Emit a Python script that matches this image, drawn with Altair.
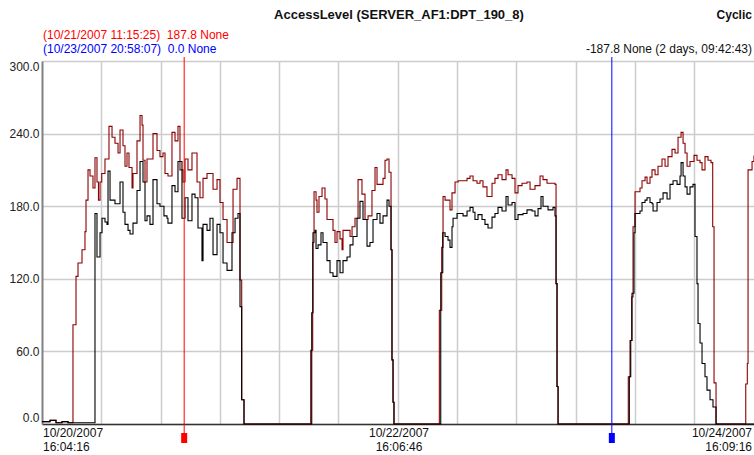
import altair as alt
import pandas as pd

# ---- data: (hours since 10/20/2007 16:04:16, value) ----
red_points = [
    (0.0, 2), (1.08, 3), (1.89, 1), (2.70, 2), (3.51, 1), (4.18, 82), (4.59, 122), (4.86, 133),
    (5.40, 144), (5.80, 159), (5.94, 185), (6.21, 210), (6.48, 205), (6.88, 195), (7.15, 220),
    (7.42, 200), (7.62, 185), (7.83, 200), (8.06, 207), (8.50, 219), (9.04, 246), (9.45, 237),
    (9.85, 232), (10.26, 224), (10.53, 243), (10.93, 230), (11.20, 213), (11.47, 224), (11.74, 212),
    (12.15, 195), (12.28, 207), (12.82, 234), (13.23, 255), (13.50, 247), (13.63, 218), (13.90, 200),
    (14.17, 219), (14.57, 219), (14.98, 240), (15.52, 226), (15.92, 221), (16.33, 224), (16.60, 207),
    (17.00, 205), (17.54, 241), (17.95, 234), (18.35, 246), (18.62, 210), (19.03, 200), (19.30, 219),
    (19.70, 210), (20.24, 224), (20.65, 224), (20.92, 200), (21.32, 187), (21.73, 203), (22.27, 207),
    (22.67, 207), (23.08, 194), (23.62, 202), (24.02, 183), (24.43, 169), (24.97, 150), (25.37, 150),
    (25.78, 194), (26.32, 203), (26.72, 119), (26.95, 20), (27.26, 0),
    (36.26, 61), (36.53, 150), (36.71, 192), (36.98, 185), (37.11, 175), (37.38, 188), (37.79, 195),
    (38.19, 186), (38.46, 169), (38.87, 169), (39.27, 160), (39.54, 150), (39.81, 159), (40.22, 153),
    (40.49, 144), (40.62, 160), (41.16, 160), (41.57, 155), (41.84, 163), (42.24, 170), (42.65, 202),
    (43.18, 190), (43.59, 169), (44.00, 172), (44.53, 193), (44.94, 212), (45.21, 198), (45.61, 198),
    (46.02, 203), (46.29, 218), (46.56, 219), (46.83, 208), (47.10, 144), (47.23, 53), (47.37, 18),
    (47.50, 0),
    (53.62, 94), (53.94, 146), (54.12, 188), (54.39, 185), (55.06, 177), (55.33, 191), (55.74, 200),
    (56.15, 201), (56.82, 201), (57.36, 203), (57.76, 205), (58.17, 201), (58.70, 199), (59.11, 201),
    (59.51, 196), (60.05, 188), (60.32, 188), (60.73, 199), (61.13, 203), (61.54, 206), (62.08, 202),
    (62.62, 210), (62.89, 206), (63.43, 203), (63.83, 191), (64.24, 197), (64.78, 199), (65.45, 200),
    (65.86, 194), (66.53, 197), (67.21, 205), (67.61, 202), (68.15, 199), (68.83, 199), (69.23, 198),
    (69.37, 116), (69.50, 31), (69.64, 0),
    (79.12, 39), (79.35, 69), (79.58, 105), (79.76, 163), (80.03, 192), (80.43, 192), (80.70, 195),
    (80.97, 201), (81.38, 204), (81.65, 199), (82.05, 204), (82.32, 210), (82.73, 206), (83.13, 213),
    (83.67, 219), (84.08, 213), (84.48, 221), (85.02, 227), (85.43, 224), (85.83, 237), (86.24, 241),
    (86.51, 232), (86.78, 224), (87.05, 213), (87.45, 217), (87.99, 222), (88.39, 218), (88.80, 216),
    (89.07, 210), (89.47, 221), (89.88, 218), (90.28, 216), (90.51, 163), (90.69, 34), (90.96, 0),
    (94.97, 33), (95.18, 50), (95.28, 210), (95.82, 217), (96.08, 222),
]

black_points = [
    (0.0, 2), (1.08, 3), (1.89, 1), (2.70, 2), (3.51, 1), (5.13, 1), (7.15, 174), (7.42, 138),
    (7.83, 158), (8.10, 170), (8.50, 167), (8.77, 165), (8.91, 209), (9.18, 185), (9.58, 185),
    (9.85, 182), (10.26, 182), (10.53, 200), (10.93, 175), (11.20, 165), (11.61, 160), (11.88, 157),
    (12.28, 166), (12.82, 193), (13.23, 217), (13.63, 200), (13.90, 168), (14.17, 172), (14.57, 165),
    (14.98, 202), (15.52, 182), (15.92, 180), (16.46, 172), (16.87, 170), (17.00, 166), (17.54, 197),
    (17.95, 192), (18.35, 217), (18.89, 170), (19.30, 187), (19.70, 168), (20.24, 190), (20.65, 187),
    (21.05, 162), (21.59, 135), (21.73, 165), (22.27, 160), (22.67, 170), (23.08, 140), (23.62, 165),
    (24.02, 158), (24.43, 133), (24.97, 127), (25.37, 127), (25.64, 158), (26.05, 170), (26.45, 174),
    (26.72, 97), (26.95, 20), (27.26, 0),
    (36.40, 92), (36.57, 158), (36.84, 160), (36.98, 145), (37.25, 148), (37.65, 158), (37.92, 150),
    (38.46, 135), (38.87, 125), (39.27, 122), (39.81, 135), (40.22, 125), (40.62, 135), (41.16, 138),
    (41.57, 148), (41.97, 155), (42.51, 170), (42.91, 184), (43.32, 169), (43.86, 147), (44.26, 150),
    (44.67, 169), (45.21, 174), (45.61, 166), (46.02, 172), (46.56, 185), (46.83, 180), (47.10, 144),
    (47.23, 53), (47.37, 18), (47.50, 0),
    (53.81, 125), (54.08, 158), (54.39, 155), (54.79, 152), (55.06, 146), (55.33, 163), (55.47, 170),
    (56.01, 174), (56.82, 172), (57.36, 176), (57.76, 179), (58.17, 175), (58.43, 169), (58.84, 173),
    (59.38, 169), (59.78, 165), (60.19, 162), (60.73, 171), (61.13, 174), (61.54, 179), (62.08, 176),
    (62.62, 188), (62.89, 181), (63.43, 183), (63.83, 169), (64.24, 173), (64.91, 174), (65.45, 177),
    (66.13, 176), (66.53, 172), (66.94, 178), (67.34, 188), (67.61, 180), (68.29, 177), (68.96, 179),
    (69.23, 172), (69.37, 116), (69.50, 31), (69.64, 0),
    (79.26, 39), (79.45, 69), (79.62, 108), (79.89, 158), (80.03, 174), (80.43, 174), (80.70, 176),
    (80.97, 183), (81.38, 185), (81.65, 187), (82.05, 183), (82.32, 182), (82.46, 176), (83.00, 183),
    (83.40, 186), (83.81, 191), (84.35, 186), (84.75, 198), (85.16, 201), (85.70, 198), (86.10, 205),
    (86.24, 216), (86.51, 205), (86.78, 196), (87.05, 190), (87.45, 196), (87.85, 198), (88.12, 155),
    (88.39, 116), (88.53, 83), (88.80, 67), (89.07, 50), (89.47, 39), (89.74, 28), (90.15, 20),
    (90.55, 14), (90.96, 0), (96.08, 0),
]

x_label_hours = [0.0, 48.042, 96.083]
x_label_texts = ["10/20/2007\n16:04:16", "10/22/2007\n16:06:46", "10/24/2007\n16:09:16"]
x_label_aligns = ["left", "center", "right"]

cursor_hours = [19.186, 76.898]
cursor_colors = ["#ff0000", "#0000ff"]

y_grid_values = list(range(0, 301, 30))
x_grid_values = list(range(8, 96, 8))

W, H = 712, 363
X_MAX = 96.083
FONT = "Liberation Sans"
NB = "\u00a0"

xs = alt.Scale(domain=[0, X_MAX], nice=False, zero=False)
ys = alt.Scale(domain=[0, 300], nice=False)

red_df = pd.DataFrame(red_points, columns=["h", "v"])
black_df = pd.DataFrame(black_points, columns=["h", "v"])

x_axis = alt.Axis(values=x_grid_values, labels=False, ticks=False, title=None,
                  grid=True, gridColor="#cccccc", gridWidth=1.5,
                  domainColor="#333333", domainWidth=1.5)
y_axis = alt.Axis(values=y_grid_values,
                  labelExpr="datum.value % 60 == 0 ? format(datum.value, '.1f') : ''",
                  ticks=False, labelPadding=3, labelFlush=True, labelFont=FONT,
                  labelFontSize=12, labelColor="#222222", title=None,
                  domainColor="#808080", domainWidth=2,
                  grid=True, gridColor="#cccccc", gridWidth=1.5)

red_line = alt.Chart(red_df).mark_line(
    interpolate="step-after", color="#8b0000", strokeWidth=1.1
).encode(x=alt.X("h:Q", scale=xs, axis=x_axis), y=alt.Y("v:Q", scale=ys, axis=y_axis))

black_line = alt.Chart(black_df).mark_line(
    interpolate="step-after", color="#000000", strokeWidth=1.1
).encode(x=alt.X("h:Q", scale=xs), y=alt.Y("v:Q", scale=ys))

layers = [red_line, black_line]

cur_df = pd.DataFrame({"h": cursor_hours, "c": cursor_colors})
layers.append(alt.Chart(cur_df).mark_rule(strokeWidth=1).encode(
    x=alt.X("h:Q", scale=xs), y=alt.value(-4), y2=alt.value(H + 10),
    color=alt.Color("c:N", scale=None)))
layers.append(alt.Chart(cur_df).mark_rule(strokeWidth=6, strokeCap="butt").encode(
    x=alt.X("h:Q", scale=xs), y=alt.value(H + 9), y2=alt.value(H + 19),
    color=alt.Color("c:N", scale=None)))

for hh, tt, al in zip(x_label_hours, x_label_texts, x_label_aligns):
    d = pd.DataFrame({"h": [hh], "t": [tt]})
    layers.append(alt.Chart(d).mark_text(
        align=al, baseline="top", lineBreak="\n", lineHeight=14,
        font=FONT, fontSize=12, color="#111111",
        dx=(-2 if al == "right" else 1)
    ).encode(x=alt.X("h:Q", scale=xs), y=alt.value(H + 4), text="t:N"))

# header annotations
header_hours = [0.0, 0.0, X_MAX, X_MAX / 2, 90.9]
header_texts = ["(10/21/2007 11:15:25)" + NB + NB + "187.8 None",
                "(10/23/2007 20:58:07)" + NB + NB + "0.0 None",
                "-187.8 None (2 days, 09:42:43)", "AccessLevel (SERVER_AF1:DPT_190_8)", "Cyclic"]
header_colors = ["#ff0000", "#0000ff", "#111111", "#111111", "#111111"]
header_aligns = ["left", "left", "right", "center", "left"]
header_y = [-26, -12, -12, -46, -46]
header_weights = ["normal", "normal", "normal", "bold", "bold"]
header_sizes = [12, 12, 12, 13, 12]

for hh, tt, cc, al, yy, fw, fs in zip(header_hours, header_texts, header_colors,
                                      header_aligns, header_y, header_weights, header_sizes):
    d = pd.DataFrame({"h": [hh], "t": [tt]})
    layers.append(alt.Chart(d).mark_text(
        align=al, baseline="middle", font=FONT, fontSize=fs, color=cc, fontWeight=fw,
        dx=(-2 if al == "right" else 1)
    ).encode(x=alt.X("h:Q", scale=xs), y=alt.value(yy), text="t:N"))

chart = alt.layer(*layers).properties(
    width=W, height=H,
    autosize=alt.AutoSizeParams(type="none"),
    padding={"left": 42, "top": 61, "right": 0, "bottom": 31},
    background="white",
).configure_view(stroke=None)

chart.save("out.html", embed_options={"renderer": "svg", "actions": False})
